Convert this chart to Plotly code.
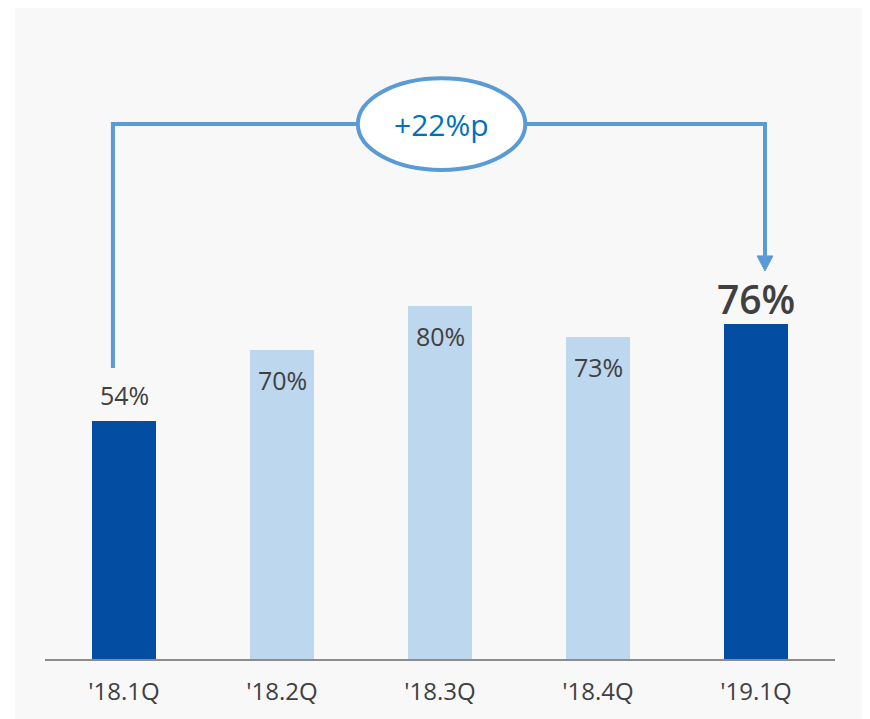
import plotly.graph_objects as go

categories = ["'18.1Q", "'18.2Q", "'18.3Q", "'18.4Q", "'19.1Q"]
values = [54, 70, 80, 73, 76]
labels = ["54%", "70%", "80%", "73%", "76%"]
highlight = [True, False, False, False, True]
change_label = "+22%p"

DARK = "#034EA2"
LIGHT = "#BDD7EE"
LINE = "#5B9BD5"
TEXT = "#404040"
FONT = "Open Sans"

xs = list(range(len(categories)))
colors = [DARK if h else LIGHT for h in highlight]

fig = go.Figure()
fig.add_trace(go.Bar(x=xs, y=values, width=0.405, marker=dict(color=colors, line=dict(width=0)),
                     hoverinfo="skip"))

# value labels
label_cfg = {
    0: dict(yshift=26, size=25, weight="normal"),
    1: dict(yshift=-30, size=25, weight="normal"),
    2: dict(yshift=-30, size=25, weight="normal"),
    3: dict(yshift=-30, size=25, weight="normal"),
    4: dict(yshift=25, size=39, weight=600),
}
for i, (x, v, t) in enumerate(zip(xs, values, labels)):
    c = label_cfg[i]
    fig.add_annotation(x=x, y=v, text=t, showarrow=False, yanchor="middle", yshift=c["yshift"],
                       font=dict(family=FONT, size=c["size"], color=TEXT, weight=c["weight"]))

# bracket
offset = 12
y_top = 121.3
x_left = xs[0] - 0.07
x_right = xs[-1] + 0.057
y_left_bottom = values[0] + offset
y_tip = values[-1] + offset
head_h = 3.4
head_w = 0.05
fig.add_shape(type="path", xref="x", yref="y",
              path=f"M {x_left},{y_left_bottom} L {x_left},{y_top} L {x_right},{y_top} L {x_right},{y_tip + head_h}",
              line=dict(color=LINE, width=4), layer="above")
fig.add_shape(type="path", xref="x", yref="y",
              path=f"M {x_right - head_w},{y_tip + head_h} L {x_right + head_w},{y_tip + head_h} L {x_right},{y_tip} Z",
              line=dict(color=LINE, width=1), fillcolor=LINE, layer="above")
fig.add_shape(type="circle", xref="x", yref="y", x0=1.48, x1=2.54, y0=110.9, y1=131.7,
              line=dict(color=LINE, width=4), fillcolor="white", layer="above")
fig.add_annotation(x=2.01, y=121.3, text=change_label, showarrow=False, yanchor="middle",
                   font=dict(family=FONT, size=30, color="#0070C0", weight=500))

# background panel
fig.add_shape(type="rect", xref="paper", yref="paper", x0=-0.038, x1=1.06, y0=-0.12, y1=1.0,
              fillcolor="#F8F8F8", line=dict(width=0), layer="below")

fig.update_layout(
    width=870, height=719,
    margin=dict(l=37, r=43, t=0, b=68),
    paper_bgcolor="white", plot_bgcolor="rgba(0,0,0,0)",
    showlegend=False, bargap=0,
    font=dict(family=FONT, color=TEXT),
)
fig.update_xaxes(range=[-0.5, 4.5], tickvals=xs, ticktext=categories, showgrid=False, zeroline=False,
                 showline=True, linecolor="#8C8C8C", linewidth=2,
                 ticks="outside", ticklen=10, tickcolor="rgba(0,0,0,0)",
                 tickfont=dict(family=FONT, size=24, color=TEXT))
fig.update_yaxes(range=[0, 651 / 4.41], visible=False, showgrid=False, zeroline=False)

fig.write_html("out.html")
